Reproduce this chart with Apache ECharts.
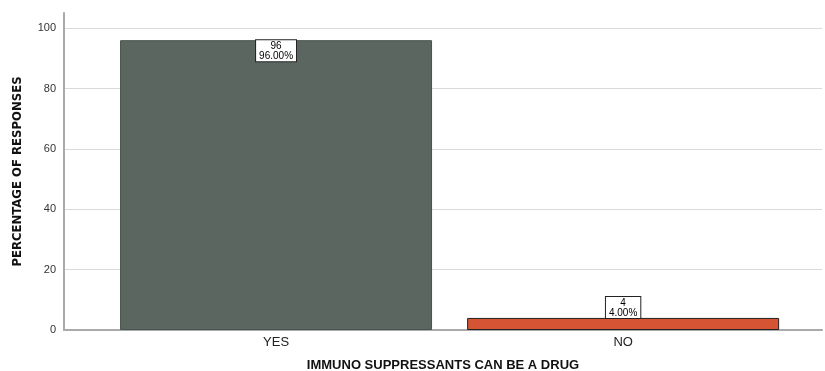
<!DOCTYPE html>
<html>
<head>
<meta charset="utf-8">
<script src="https://cdn.jsdelivr.net/npm/echarts@6/dist/echarts.min.js"></script>
<style>
  html, body { margin: 0; padding: 0; background: #fff; }
  #chart { width: 825px; height: 371px; }
</style>
</head>
<body>
<div id="chart"></div>
<script>
const categories = ['YES', 'NO'];
const counts = [96, 4];
const percents = [96.0, 4.0];
const barColors = ['#5c6660', '#d45433'];
const yTicks = [0, 20, 40, 60, 80, 100];

const chart = echarts.init(document.getElementById('chart'));

const seriesData = percents.map((v, i) => ({
  value: [i, v],
  itemStyle: {
    color: barColors[i],
    borderColor: i === 0 ? '#4a524d' : '#222',
    borderWidth: 1
  },
  label: {
    position: v > 50 ? 'insideTop' : 'top',
    distance: 0
  }
}));

// grid lines at 0..100, none at the axis top (105)
const gridColors = yTicks.map(() => '#d9d9d9').concat(['rgba(0,0,0,0)']);

const option = {
  animation: false,
  grid: { left: 64, right: 3, top: 13, bottom: 41, outerBoundsMode: 'none' },
  xAxis: {
    type: 'value',
    min: -0.611,
    max: 1.573,
    name: 'IMMUNO SUPPRESSANTS CAN BE A DRUG',
    nameLocation: 'middle',
    nameGap: 29,
    nameTextStyle: { fontFamily: 'Liberation Sans', fontWeight: 'bold', fontSize: 13, color: '#111' },
    axisLine: { show: true, onZero: false, lineStyle: { color: '#aaa', width: 2 } },
    axisTick: { show: false },
    splitLine: { show: false },
    axisLabel: {
      customValues: [0, 1],
      formatter: v => categories[Math.round(v)] || '',
      fontFamily: 'Liberation Sans',
      fontSize: 13,
      color: '#222',
      margin: 6
    }
  },
  yAxis: {
    type: 'value',
    min: 0,
    max: 105,
    interval: 20,
    name: 'PERCENTAGE OF RESPONSES',
    nameLocation: 'middle',
    nameRotate: 90,
    nameGap: 40,
    nameTextStyle: { fontFamily: "'DejaVu Sans Condensed', 'Liberation Sans'", fontWeight: 'bold', fontSize: 13, color: '#111' },
    axisLine: { show: true, onZero: false, lineStyle: { color: '#aaa', width: 2 } },
    axisTick: { show: false },
    splitLine: { lineStyle: { color: gridColors, width: 1 } },
    axisLabel: {
      customValues: yTicks,
      fontFamily: 'Liberation Sans',
      fontSize: 11,
      color: '#333',
      margin: 8
    }
  },
  series: [{
    type: 'bar',
    barWidth: 312,
    data: seriesData,
    label: {
      show: true,
      formatter: p => counts[p.dataIndex] + '\n' + percents[p.dataIndex].toFixed(2) + '%',
      fontFamily: 'Liberation Sans',
      fontSize: 10,
      lineHeight: 10,
      color: '#000',
      backgroundColor: '#fff',
      borderColor: '#222',
      borderWidth: 1,
      padding: [1, 3, 0, 3]
    }
  }]
};

chart.setOption(option);
</script>
</body>
</html>
